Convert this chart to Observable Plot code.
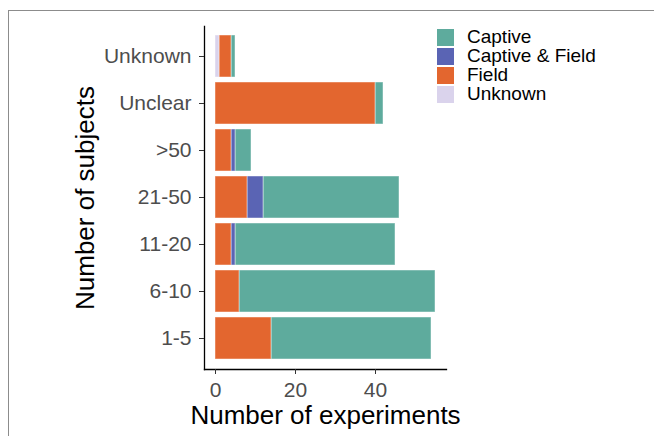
<!DOCTYPE html>
<html>
<head>
<meta charset="utf-8">
<script src="https://cdn.jsdelivr.net/npm/d3@7"></script>
<script src="https://cdn.jsdelivr.net/npm/@observablehq/plot@0.6"></script>
<style>
  html, body { margin: 0; padding: 0; background: #fff; }
  #wrap { position: relative; width: 654px; height: 436px; overflow: hidden; font-family: "Liberation Sans", Arial, sans-serif; }
  #border { position: absolute; left: 8px; top: 10px; width: 700px; height: 500px; border-left: 1.5px solid #8c8c8c; border-top: 1.5px solid #8c8c8c; }
  #chart { position: absolute; left: 0; top: 0; }
  #legend { position: absolute; left: 437px; top: 29px; }
  .row { position: relative; height: 19px; }
  .sw { position: absolute; left: 0; top: 0; width: 17px; height: 17px; }
  .lab { position: absolute; left: 30px; top: -3px; font-size: 19px; line-height: 22px; color: #000; white-space: nowrap; }
</style>
</head>
<body>
<div id="wrap">
  <div id="border"></div>
  <div id="chart"></div>
  <div id="legend"></div>
</div>
<script>
// Categories (top to bottom)
const categories = ["Unknown", "Unclear", ">50", "21-50", "11-20", "6-10", "1-5"];
// Series values per category
const captive      = [1, 2, 4, 34, 40, 49, 40];
const captiveField = [0, 0, 1, 4, 1, 0, 0];
const field        = [3, 40, 4, 8, 4, 6, 14];
const unknown      = [1, 0, 0, 0, 0, 0, 0];
// Series and colours
const seriesNames = ["Captive", "Captive & Field", "Field", "Unknown"];
const seriesColors = ["#5eab9d", "#5a64b4", "#e3662f", "#dad3ec"];
const stackOrder = ["Unknown", "Field", "Captive & Field", "Captive"];
const xTicks = [0, 20, 40];

const seriesValues = {"Captive": captive, "Captive & Field": captiveField, "Field": field, "Unknown": unknown};
const data = [];
categories.forEach((c, i) => {
  seriesNames.forEach(s => {
    const v = seriesValues[s][i];
    if (v > 0) data.push({category: c, series: s, value: v});
  });
});

const chart = Plot.plot({
  width: 654,
  height: 436,
  marginLeft: 204,
  marginRight: 208,
  marginTop: 26,
  marginBottom: 67,
  style: {fontFamily: "'Liberation Sans', Arial, sans-serif", background: "transparent"},
  x: {domain: [-2.75, 57.75]},
  y: {domain: categories, paddingInner: 0.1, paddingOuter: 0.15},
  color: {domain: seriesNames, range: seriesColors},
  marks: [
    Plot.barX(data, {
      x: "value", y: "category", fill: "series", order: stackOrder,
      stroke: "white", strokeOpacity: 0.45, strokeWidth: 1
    }),
    Plot.frame({anchor: "left", stroke: "#000", strokeWidth: 1.3}),
    Plot.frame({anchor: "bottom", stroke: "#000", strokeWidth: 1.3}),
    Plot.axisY({tickSize: 5, tickPadding: 8, fontSize: 21, fill: "#4d4d4d", stroke: "#333", label: null}),
    Plot.axisX({ticks: xTicks, tickSize: 5, tickPadding: 8, fontSize: 21, fill: "#4d4d4d", stroke: "#333", label: null}),
    Plot.text(["Number of experiments"], {frameAnchor: "bottom", dy: 54, lineAnchor: "bottom", textAnchor: "middle", fontSize: 26, fill: "#000"}),
    Plot.text(["Number of subjects"], {frameAnchor: "left", dx: -111, rotate: -90, lineAnchor: "bottom", textAnchor: "middle", fontSize: 26, fill: "#000"})
  ]
});
document.getElementById("chart").appendChild(chart);

// Legend
const legend = d3.select("#legend");
seriesNames.forEach((s, i) => {
  const row = legend.append("div").attr("class", "row");
  row.append("div").attr("class", "sw").style("background", seriesColors[i]);
  row.append("div").attr("class", "lab").text(s);
});
</script>
</body>
</html>
